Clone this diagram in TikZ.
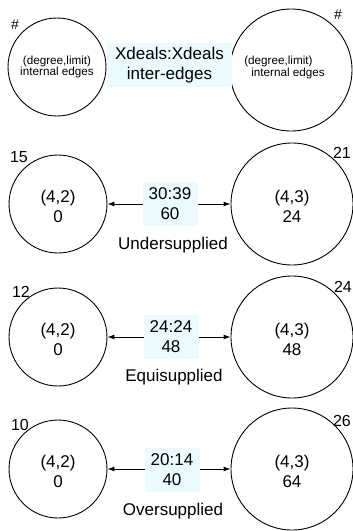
\documentclass[tikz,border=0pt]{standalone}
\usepackage{fontspec}
\setmainfont{Liberation Sans}
\usetikzlibrary{arrows.meta}
\definecolor{boxfill}{RGB}{234,250,253}
\begin{document}
\begin{tikzpicture}[x=1pt,y=-1pt,
  lcirc/.style={draw, circle, line width=0.9pt, minimum size=98pt, inner sep=0pt, align=center},
  rcirc/.style={draw, circle, line width=0.9pt, minimum size=122pt, inner sep=0pt, align=center},
  smalltxt/.style={font=\fontsize{11.7}{11.5}\selectfont},
  bigtxt/.style={font=\fontsize{17}{20}\selectfont, align=center, inner sep=0pt},
  cornerlbl/.style={font=\fontsize{16}{16}\selectfont, inner sep=0pt},
  ratiobox/.style={fill=boxfill, font=\fontsize{17}{20}\selectfont, align=center, minimum width=55pt, minimum height=44pt, inner sep=0pt},
  link/.style={line width=0.9pt, {Latex[length=7pt,width=5pt]}-{Latex[length=7pt,width=5pt]}},
  caption/.style={font=\fontsize{17}{20}\selectfont, inner sep=0pt},
]
\useasboundingbox (0,0) rectangle (353,531);
% row 1
\node[lcirc, smalltxt] (L1) at (57,67) {(degree,limit)\\internal edges};
\node[rcirc] (R1) at (291,70) {};
\node[smalltxt, align=left, inner sep=0pt] (R1t) at (284.5,67.5) {(degree,limit)\\\hspace*{7pt}internal edges};
\node[ratiobox, minimum width=125pt] (B1) at (169.5,65) {Xdeals:Xdeals\\inter-edges};
\node[cornerlbl, font=\fontsize{14}{14}\selectfont] (h1) at (15,25) {\#};
\node[cornerlbl, font=\fontsize{14}{14}\selectfont] (h2) at (338,15) {\#};
% row 2
\node[lcirc] (L2) at (58,204) {};
\node[bigtxt] (L2t) at ([yshift=-2.5pt]L2.center) {(4,2)\\0};
\node[rcirc] (R2) at (292,204) {};
\node[bigtxt] (R2t) at ([yshift=-2.5pt]R2.center) {(4,3)\\24};
\draw[link] (L2) -- (R2);
\node[ratiobox] (B2) at (170,204) {30:39\\60};
\node[caption] (C2) at (173,245) {Undersupplied};
\node[cornerlbl] (n15) at (19,157) {15};
\node[cornerlbl] (n21) at (342,153) {21};
% row 3
\node[lcirc] (L3) at (58,337) {};
\node[bigtxt] (L3t) at ([yshift=-2.5pt]L3.center) {(4,2)\\0};
\node[rcirc] (R3) at (292,337) {};
\node[bigtxt] (R3t) at ([yshift=-2.5pt]R3.center) {(4,3)\\48};
\draw[link] (L3) -- (R3);
\node[ratiobox] (B3) at (171,337) {24:24\\48};
\node[caption] (C3) at (174,377) {Equisupplied};
\node[cornerlbl] (n12) at (21,292) {12};
\node[cornerlbl] (n24) at (343,287) {24};
% row 4
\node[lcirc] (L4) at (58,469) {};
\node[bigtxt] (L4t) at ([yshift=-2.5pt]L4.center) {(4,2)\\0};
\node[rcirc] (R4) at (292,469) {};
\node[bigtxt] (R4t) at ([yshift=-2.5pt]R4.center) {(4,3)\\64};
\draw[link] (L4) -- (R4);
\node[ratiobox] (B4) at (172,470) {20:14\\40};
\node[caption] (C4) at (173,511) {Oversupplied};
\node[cornerlbl] (n10) at (20,425) {10};
\node[cornerlbl] (n26) at (342,421) {26};
\end{tikzpicture}
\end{document}
